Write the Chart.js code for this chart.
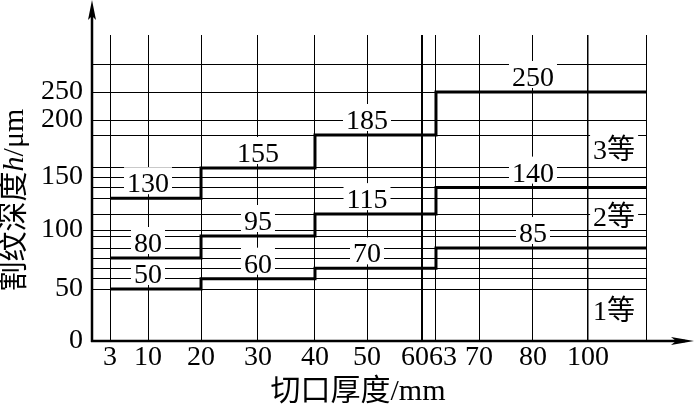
<!DOCTYPE html>
<html>
<head>
<meta charset="utf-8">
<script src="https://cdn.jsdelivr.net/npm/chart.js@4.4.1/dist/chart.umd.min.js"></script>
<style>
  html, body { margin: 0; padding: 0; background: #fff; }
  #wrap { width: 695px; height: 411px; }
</style>
</head>
<body>
<div id="wrap"><canvas id="chart" width="695" height="411"></canvas></div>
<script>
// cut thickness (mm) where the depth steps up, last one is the right edge of the grid
const thickBreaks = [3, 20, 40, 63, 120];
const grade1 = [50, 60, 70, 85];
const grade2 = [80, 95, 115, 140];
const grade3 = [130, 155, 185, 250];
const gradeNames = ['1等', '2等', '3等'];

const xTicks = [3, 10, 20, 30, 40, 50, 60, 63, 70, 80, 100, 120];
const xTickLabels = ['3', '10', '20', '30', '40', '50', '60', '63', '70', '80', '100', ''];
const yTicks = [0, 50, 60, 70, 80, 85, 95, 100, 115, 130, 140, 150, 155, 185, 200, 250, 300];
const yLabels = [0, 50, 100, 150, 200, 250];

// where the value labels sit along x (one per step) and where the grade names go
const labelAt = [10, 30, 50, 80];
const gradeX = 109;
const gradeY = [30, 113, 172];

// the drawing is not to scale: both axes are piecewise, [value, fraction of axis]
const axisStops = {
  x: [[0, 0], [3, 0.0325], [10, 0.1011], [20, 0.1968], [30, 0.2996], [40, 0.4025],
      [50, 0.4964], [60, 0.5957], [63, 0.6209], [70, 0.6986], [80, 0.796], [100, 0.8953], [120, 1]],
  y: [[0, 0], [50, 0.1699], [80, 0.2712], [85, 0.3039], [100, 0.3627], [150, 0.5359],
      [155, 0.5654], [185, 0.6732], [200, 0.7222], [250, 0.8137], [300, 0.902], [350, 1]]
};

class StepAxis extends Chart.LinearScale {
  determineDataLimits() {
    const s = axisStops[this.id];
    this.min = s[0][0];
    this.max = s[s.length - 1][0];
  }
  buildTicks() {
    return (this.id === 'x' ? xTicks : yTicks).map(v => ({ value: v }));
  }
  getPixelForValue(value) {
    const s = axisStops[this.id];
    let i = 1;
    while (i < s.length - 1 && value > s[i][0]) i++;
    const [v0, f0] = s[i - 1];
    const [v1, f1] = s[i];
    return this.getPixelForDecimal(f0 + (value - v0) / (v1 - v0) * (f1 - f0));
  }
  getValueForPixel(pixel) {
    const s = axisStops[this.id];
    const d = this.getDecimalForPixel(pixel);
    let i = 1;
    while (i < s.length - 1 && d > s[i][1]) i++;
    const [v0, f0] = s[i - 1];
    const [v1, f1] = s[i];
    return v0 + (d - f0) / (f1 - f0) * (v1 - v0);
  }
}
StepAxis.id = 'stepaxis';
StepAxis.defaults = {};
Chart.register(StepAxis);

const serif = '"Liberation Serif", "Noto Sans CJK SC", serif';

function stepPoints(values) {
  const pts = values.map((v, i) => ({ x: thickBreaks[i], y: v }));
  pts.push({ x: thickBreaks[thickBreaks.length - 1], y: values[values.length - 1] });
  return pts;
}

function boxedText(ctx, text, cx, cy) {
  const w = ctx.measureText(text).width;
  ctx.fillStyle = '#fff';
  ctx.fillRect(cx - w / 2 - 3, cy - 15, w + 6, 27);
  ctx.fillStyle = '#000';
  ctx.fillText(text, cx, cy + 10);
}

const decorPlugin = {
  id: 'decor',
  beforeDatasetsDraw(chart) {
    const { ctx, scales: { x, y } } = chart;
    ctx.save();
    ctx.font = '28px ' + serif;
    ctx.textAlign = 'center';
    ctx.textBaseline = 'alphabetic';
    [grade1, grade2, grade3].forEach(vals => {
      vals.forEach((v, i) => {
        boxedText(ctx, String(v), x.getPixelForValue(labelAt[i]), y.getPixelForValue(v) - 16);
      });
    });
    gradeNames.forEach((name, k) => {
      boxedText(ctx, name, x.getPixelForValue(gradeX), y.getPixelForValue(gradeY[k]));
    });
    ctx.restore();
  },
  afterDraw(chart) {
    const { ctx, chartArea: a } = chart;
    ctx.save();
    ctx.strokeStyle = '#000';
    ctx.fillStyle = '#000';
    ctx.lineWidth = 2.5;

    // axes with arrow heads
    ctx.beginPath();
    ctx.moveTo(a.left, a.bottom + 1);
    ctx.lineTo(a.left, 10);
    ctx.moveTo(a.left - 1, a.bottom);
    ctx.lineTo(chart.width - 10, a.bottom);
    ctx.stroke();

    ctx.beginPath();
    ctx.moveTo(a.left, 0);
    ctx.lineTo(a.left - 4, 20);
    ctx.lineTo(a.left, 16);
    ctx.lineTo(a.left + 4, 20);
    ctx.closePath();
    ctx.fill();

    ctx.beginPath();
    ctx.moveTo(chart.width - 1, a.bottom);
    ctx.lineTo(chart.width - 24, a.bottom - 4);
    ctx.lineTo(chart.width - 19, a.bottom);
    ctx.lineTo(chart.width - 24, a.bottom + 4);
    ctx.closePath();
    ctx.fill();

    // x title
    ctx.font = '30px ' + serif;
    ctx.textAlign = 'center';
    ctx.textBaseline = 'middle';
    ctx.fillText('切口厚度/mm', 358, 392);

    // y title, italic h
    const parts = [
      ['割纹深度', '30px ' + serif],
      ['h', 'italic 30px ' + serif],
      ['/μm', '30px ' + serif]
    ];
    let total = 0;
    parts.forEach(p => { ctx.font = p[1]; total += ctx.measureText(p[0]).width; });
    ctx.translate(15, 200);
    ctx.rotate(-Math.PI / 2);
    ctx.textAlign = 'left';
    let pos = -total / 2;
    parts.forEach(p => {
      ctx.font = p[1];
      ctx.fillText(p[0], pos, 0);
      pos += ctx.measureText(p[0]).width;
    });
    ctx.restore();
  }
};

new Chart(document.getElementById('chart'), {
  type: 'line',
  data: {
    datasets: [grade1, grade2, grade3].map((vals, k) => ({
      label: gradeNames[k],
      data: stepPoints(vals),
      stepped: true,
      borderColor: '#000',
      borderWidth: 3,
      borderJoinStyle: 'miter',
      pointRadius: 0,
      fill: false
    }))
  },
  options: {
    responsive: false,
    animation: false,
    events: [],
    layout: { padding: { top: 35, right: 49, bottom: 0, left: 0 } },
    plugins: { legend: { display: false }, tooltip: { enabled: false } },
    scales: {
      x: {
        type: 'stepaxis',
        afterFit: s => { s.height = 70; },
        border: { display: false },
        grid: {
          color: '#000',
          drawTicks: false,
          lineWidth: c => c.tick && c.tick.value === 60 ? 2 : (c.tick && c.tick.value === 100 ? 1.5 : 1)
        },
        ticks: {
          autoSkip: false,
          maxRotation: 0,
          minRotation: 0,
          padding: 0,
          color: '#000',
          font: { family: serif, size: 28 },
          // 60 and 63 are only a few px apart, nudge them away from each other
          callback: (v, i) => {
            const t = xTickLabels[i];
            if (t === '60') return t + '\u2002';
            if (t === '63') return '\u2002' + t;
            return t;
          }
        }
      },
      y: {
        type: 'stepaxis',
        afterFit: s => { s.width = 92; },
        border: { display: false },
        grid: { color: '#000', lineWidth: 1, drawTicks: false },
        ticks: {
          autoSkip: false,
          padding: 9,
          color: '#000',
          font: { family: serif, size: 28 },
          callback: v => yLabels.includes(v) ? String(v) : ''
        }
      }
    }
  },
  plugins: [decorPlugin]
});
</script>
</body>
</html>
